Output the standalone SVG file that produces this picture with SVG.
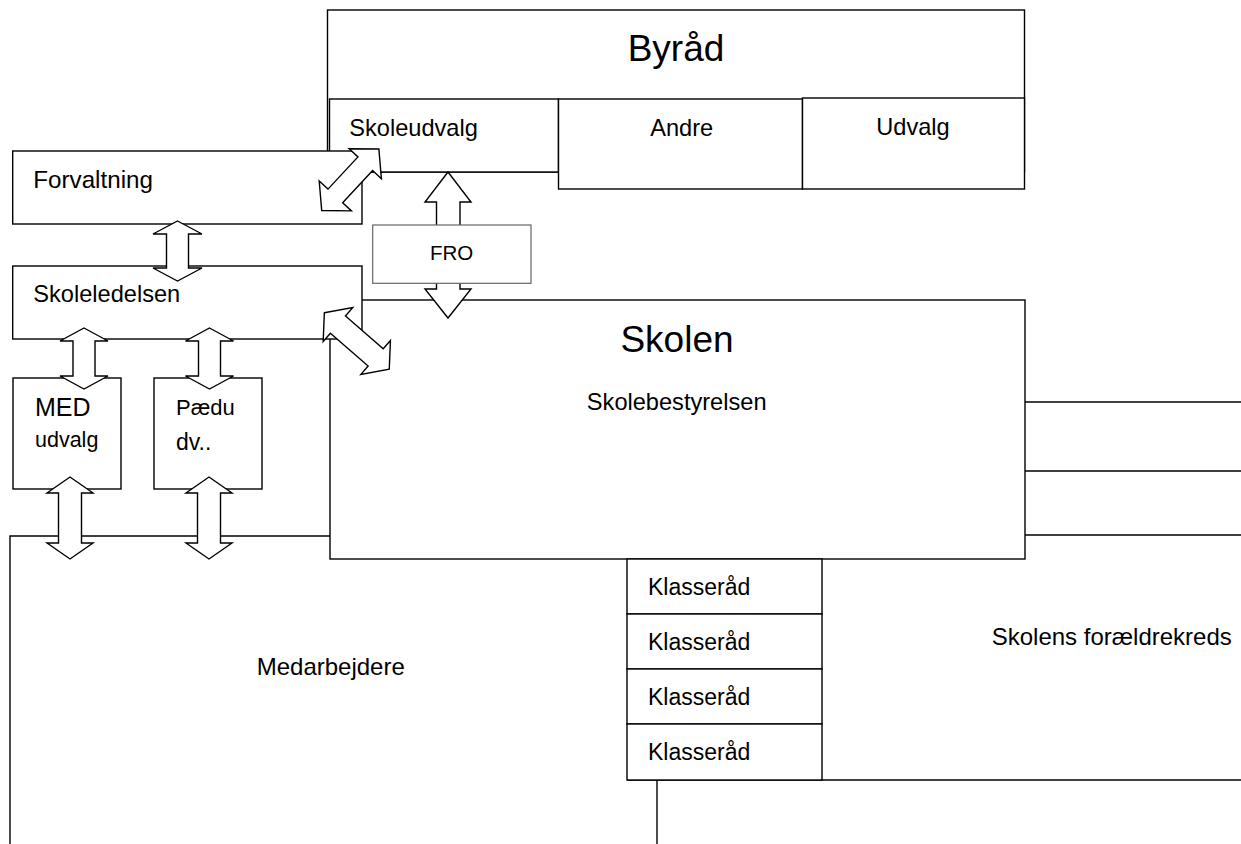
<svg xmlns="http://www.w3.org/2000/svg" width="1241" height="844" viewBox="0 0 1241 844">
<style>
.box{fill:#fff;stroke:#000;stroke-width:1.4}
.line{fill:none;stroke:#000;stroke-width:1.4}
.arr{fill:#fff;stroke:#000;stroke-width:1.4;stroke-linejoin:miter}
.fro{fill:#fff;stroke:#666;stroke-width:1.2}
text{font-family:"Liberation Sans",Arial,sans-serif;fill:#000}
.s{font-size:23.6px}
.big{font-size:37px}
.mid{text-anchor:middle}
</style>
<rect width="1241" height="844" fill="#fff"/>
<g id="byraad">
<rect class="box" x="327.5" y="10" width="697" height="162"/>
<text class="big mid" x="676" y="61">Byråd</text>
</g>
<g id="skoleudvalg">
<rect class="box" x="329.5" y="99" width="229" height="73"/>
<text class="s" x="349.3" y="136">Skoleudvalg</text>
</g>
<g id="andre">
<rect class="box" x="558.5" y="99" width="244" height="90"/>
<text class="s mid" x="681.7" y="136">Andre</text>
</g>
<g id="udvalg">
<rect class="box" x="802.5" y="98" width="222" height="91"/>
<text class="s mid" x="913" y="135">Udvalg</text>
</g>
<g id="forvaltning">
<rect class="box" x="12.7" y="151" width="349.3" height="73"/>
<text class="s" x="33.3" y="188" style="font-size:24.2px">Forvaltning</text>
</g>
<g id="skolen">
<rect class="box" x="330" y="300" width="695" height="259"/>
<text class="big mid" x="677" y="352">Skolen</text>
<text class="s mid" x="676.7" y="410">Skolebestyrelsen</text>
</g>
<g id="skoleledelsen">
<rect class="box" x="12.7" y="266" width="349.3" height="73"/>
<text class="s" x="33.3" y="302">Skoleledelsen</text>
</g>
<g id="med">
<rect class="box" x="13" y="378" width="108" height="111"/>
<text x="35" y="416" style="font-size:25px">MED</text>
<text x="35" y="447" style="font-size:21.5px">udvalg</text>
</g>
<g id="paedu">
<rect class="box" x="154" y="378" width="108" height="111"/>
<text x="176" y="415" style="font-size:22px">Pædu</text>
<text x="176" y="450" style="font-size:23px">dv..</text>
</g>
<g id="medarbejdere">
<polyline class="line" points="10,844 10,536 330,536"/>
<text x="256.7" y="675" style="font-size:24px">Medarbejdere</text>
</g>
<g id="foraeldrekreds">
<line class="line" x1="1025" y1="402" x2="1241" y2="402"/>
<line class="line" x1="1025" y1="471" x2="1241" y2="471"/>
<line class="line" x1="1025" y1="535" x2="1241" y2="535"/>
<line class="line" x1="627" y1="780" x2="1241" y2="780"/>
<line class="line" x1="657" y1="780" x2="657" y2="844"/>
<text x="991.7" y="645" style="font-size:24px">Skolens forældrekreds</text>
</g>
<g id="klasseraad1">
<rect class="box" x="627" y="559" width="195" height="55"/>
<text x="648" y="595" style="font-size:23px">Klasseråd</text>
</g>
<g id="klasseraad2">
<rect class="box" x="627" y="614" width="195" height="55"/>
<text x="648" y="650" style="font-size:23px">Klasseråd</text>
</g>
<g id="klasseraad3">
<rect class="box" x="627" y="669" width="195" height="55"/>
<text x="648" y="705" style="font-size:23px">Klasseråd</text>
</g>
<g id="klasseraad4">
<rect class="box" x="627" y="724" width="195" height="56"/>
<text x="648" y="760" style="font-size:23px">Klasseråd</text>
</g>
<g id="connectors">
<polygon class="arr" points="177.5,221 202,234 188.5,234 188.5,268 202,268 177.5,281 153,268 166.5,268 166.5,234 153,234"/>
<polygon class="arr" points="84,328 108,341 95,341 95,376 108,376 84,389 60,376 73,376 73,341 60,341"/>
<polygon class="arr" points="209.5,328 233.5,341 220.5,341 220.5,376 233.5,376 209.5,389 185.5,376 198.5,376 198.5,341 185.5,341"/>
<polygon class="arr" points="70,477 93,493 81.5,493 81.5,543 93,543 70,559 47,543 58.5,543 58.5,493 47,493"/>
<polygon class="arr" points="209,477 232,493 220.5,493 220.5,543 232,543 209,559 186,543 197.5,543 197.5,493 186,493"/>
<polygon class="arr" points="448,172 471,202 460,202 460,289 471,289 448,318 425,289 436.5,289 436.5,202 425,202"/>
<path class="arr" transform="translate(350.3,179.8) rotate(-47.1)" d="M-42 0 L-22 -22 L-22 -10 L22 -10 L22 -22 L42 0 L22 22 L22 10 L-22 10 L-22 22 Z"/>
<path class="arr" transform="translate(356.8,341) rotate(41)" d="M-43 0 L-25 -22.5 L-25 -11.5 L25 -11.5 L25 -22.5 L43 0 L25 22.5 L25 11.5 L-25 11.5 L-25 22.5 Z"/>
</g>
<g id="fro">
<rect class="fro" x="372.7" y="225" width="158.3" height="58.3"/>
<text class="mid" x="451.7" y="260" style="font-size:20.5px">FRO</text>
</g>
</svg>
